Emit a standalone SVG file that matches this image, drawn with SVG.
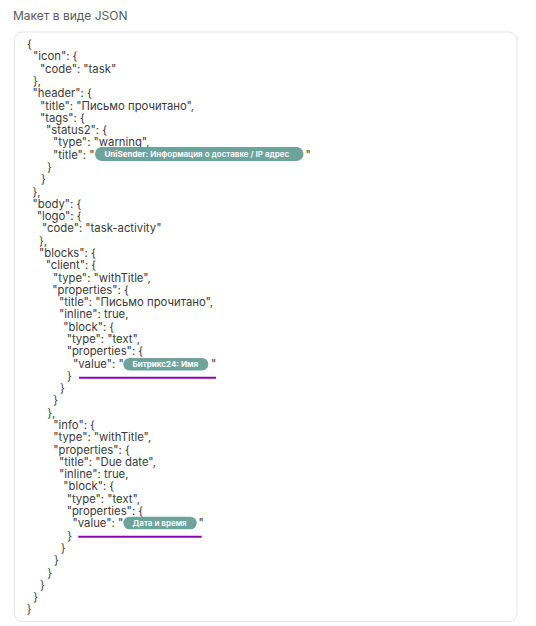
<svg xmlns="http://www.w3.org/2000/svg" width="536" height="626" viewBox="0 0 536 626">
<style>
.t{font-family:"Inter","Noto Sans",sans-serif;font-size:11.3px;fill:#3a3a3a}
.h{font-family:"Inter","Noto Sans",sans-serif;font-size:12px;fill:#5a5a5a}
.pill{fill:#6ea39c}
.pt{font-family:"Inter","Noto Sans",sans-serif;font-size:8px;fill:#ffffff;font-weight:600}
.pb{font-weight:700}
.ul{stroke:#8a06b9;stroke-width:2;fill:none}
</style>
<defs>
<linearGradient id="g1" x1="0" y1="0" x2="1" y2="0">
<stop offset="0" stop-color="#8a06b9"/>
<stop offset="0.85" stop-color="#8a06b9"/>
<stop offset="1" stop-color="#a657c9"/>
</linearGradient>
</defs>
<rect width="536" height="626" fill="#ffffff"/>
<g id="title"><text class="h" x="13" y="19.5">Макет в виде JSON</text></g>
<g id="panel"><rect x="14.5" y="32" width="502.5" height="589.5" rx="8" fill="#ffffff" stroke="#e3e3e3" stroke-width="1"/></g>
<g id="code" class="t">
<text x="27" y="48">{</text>
<text x="33" y="60.3">"icon": {</text>
<text x="40" y="72.6">"code": "task"</text>
<text x="33" y="84.9">},</text>
<text x="32.5" y="97.2">"header": {</text>
<text x="40" y="109.5">"title": "Письмо прочитано",</text>
<text x="40" y="121.7">"tags": {</text>
<text x="46" y="134">"status2": {</text>
<text x="53" y="146.3">"type": "warning",</text>
<text x="53" y="158.6">"title": "</text>
<text x="305.5" y="158.6">"</text>
<text x="47" y="170.9">}</text>
<text x="41" y="183.2">}</text>
<text x="32.5" y="195.5">},</text>
<text x="32.5" y="207.8">"body": {</text>
<text x="36.7" y="220.1">"logo": {</text>
<text x="42" y="232.4">"code": "task-activity"</text>
<text x="39" y="244.7">},</text>
<text x="39" y="256.9">"blocks": {</text>
<text x="45.7" y="269.2">"client": {</text>
<text x="53" y="281.5">"type": "withTitle",</text>
<text x="52.3" y="293.8">"properties": {</text>
<text x="59" y="306.1">"title": "Письмо прочитано",</text>
<text x="59" y="318.4">"inline": true,</text>
<text x="63.3" y="330.7">"block": {</text>
<text x="66.7" y="343">"type": "text",</text>
<text x="66.7" y="355.3">"properties": {</text>
<text x="73" y="367.5">"value": "</text>
<text x="211" y="367.5">"</text>
<text x="67" y="379.8">}</text>
<text x="60" y="392.1">}</text>
<text x="53.3" y="404.4">}</text>
<text x="47.3" y="416.7">},</text>
<text x="53.3" y="429">"info": {</text>
<text x="53.3" y="441.3">"type": "withTitle",</text>
<text x="53.3" y="453.6">"properties": {</text>
<text x="59" y="465.9">"title": "Due date",</text>
<text x="59" y="478.2">"inline": true,</text>
<text x="63.3" y="490.4">"block": {</text>
<text x="66.7" y="502.7">"type": "text",</text>
<text x="66.7" y="515">"properties": {</text>
<text x="72.5" y="527.3">"value": "</text>
<text x="198.5" y="527.3">"</text>
<text x="67.3" y="539.6">}</text>
<text x="60.7" y="551.9">}</text>
<text x="54" y="564.2">}</text>
<text x="47.3" y="576.5">}</text>
<text x="40" y="588.8">}</text>
<text x="33.3" y="601.1">}</text>
<text x="26.7" y="613.4">}</text>
</g>
<g id="pill-unisender">
<rect class="pill" x="95" y="147" width="208.5" height="14" rx="7"/>
<text class="pt" x="104.5" y="156.9"><tspan class="pb">UniSender:</tspan> Информация о доставке / IP адрес</text>
</g>
<g id="pill-bitrix">
<rect class="pill" x="123.3" y="358" width="85" height="12.5" rx="6.25"/>
<text class="pt pb" x="132.5" y="367.1">Битрикс24: Имя</text>
</g>
<g id="pill-date">
<rect class="pill" x="123.3" y="516.7" width="73.4" height="12.6" rx="6.3"/>
<text class="pt" x="132.5" y="525.9">Дата и время</text>
</g>
<g id="underlines">
<line x1="55" y1="170.5" x2="315" y2="170.5" stroke="url(#g1)" stroke-width="2"/>
<line class="ul" x1="79" y1="377.7" x2="216" y2="377.7"/>
<line class="ul" x1="78.3" y1="536.7" x2="201.7" y2="536.7"/>
</g>
</svg>
